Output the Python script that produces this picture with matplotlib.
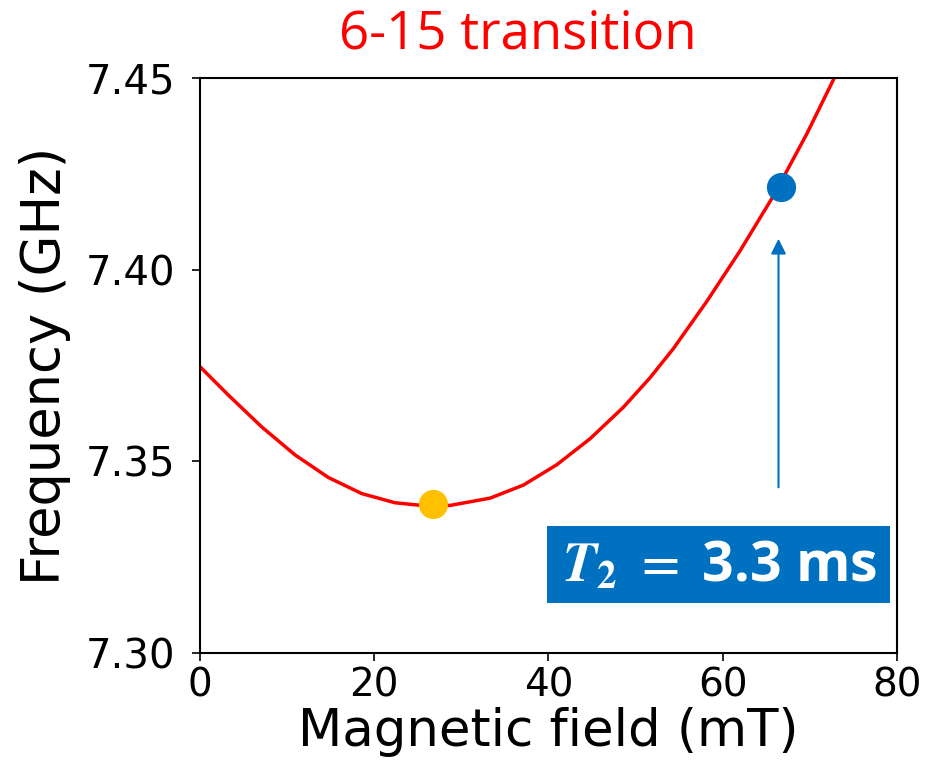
import matplotlib
matplotlib.use('Agg')
import matplotlib.pyplot as plt
from matplotlib.patches import Rectangle

plt.rcParams['font.family'] = 'DejaVu Sans'
plt.rcParams['mathtext.fontset'] = 'stix'

#transition curve (field in mT, frequency in GHz)
field = [0.0, 3.25, 7.08, 10.9, 14.73, 18.56, 22.38, 25.45, 28.69, 33.29, 37.11,
		 40.94, 44.77, 48.59, 51.65, 54.33, 58.16, 61.98, 65.80, 69.64, 72.69]
freq = [7.3747, 7.3673, 7.3590, 7.3517, 7.3458, 7.3416, 7.3392, 7.3385, 7.3385, 7.3404, 7.3438,
		7.3491, 7.3559, 7.3641, 7.3718, 7.3794, 7.3917, 7.4049, 7.4192, 7.4354, 7.4495]

#the two marked operating points
clockField = 26.7
clockFreq = 7.3390
opField = 66.7
opFreq = 7.4216

#arrow under the blue point
arrowField = 66.4
arrowStart = 7.3425
arrowEnd = 7.4088

yTicks = [7.30, 7.35, 7.40, 7.45]
xTicks = [0, 20, 40, 60, 80]

fig = plt.figure(figsize=(9.28, 7.74), dpi=100)
ax = fig.add_axes([0.2155, 0.1563, 0.7511, 0.7429])

ax.plot(field, freq, color='red', linewidth=2.5, solid_joinstyle='round', zorder=2)
ax.plot(clockField, clockFreq, 'o', color='#FFC000', markersize=20, zorder=3)
ax.plot(opField, opFreq, 'o', color='#0070C0', markersize=20, zorder=3)

ax.annotate('', xy=(arrowField, arrowEnd), xytext=(arrowField, arrowStart),
			arrowprops=dict(arrowstyle='-|>,head_length=0.9,head_width=0.45', color='#0070C0', linewidth=1.5))

#T2 box
ax.add_patch(Rectangle((0.498, 0.087), 0.492, 0.134, transform=ax.transAxes,
					   facecolor='#0070C0', edgecolor='none', zorder=4))
ax.text(0.745, 0.150, r'$\mathbfit{T}_\mathbf{2}$ $=$ 3.3 ms', transform=ax.transAxes,
		ha='center', va='center', color='white', fontsize=40, fontweight='bold',
		family='Open Sans', zorder=5)

ax.set_xlim(0, 80)
ax.set_ylim(7.30, 7.45)
ax.set_xticks(xTicks)
ax.set_yticks(yTicks)
ax.set_yticklabels(['%.2f' % t for t in yTicks])
ax.tick_params(labelsize=28, length=6, width=1.2, direction='out')
ax.tick_params(axis='y', labelsize=29, pad=12)
for spine in ax.spines.values():
	spine.set_linewidth(1.5)

ax.set_xlabel('Magnetic field (mT)', fontsize=37, labelpad=2)
ax.set_ylabel('Frequency (GHz)', fontsize=38, labelpad=10)

fig.text(0.558, 0.955, '6-15 transition', color='red', fontsize=38, family='Open Sans',
		 ha='center', va='center')

plt.savefig('out.png', dpi=100)
